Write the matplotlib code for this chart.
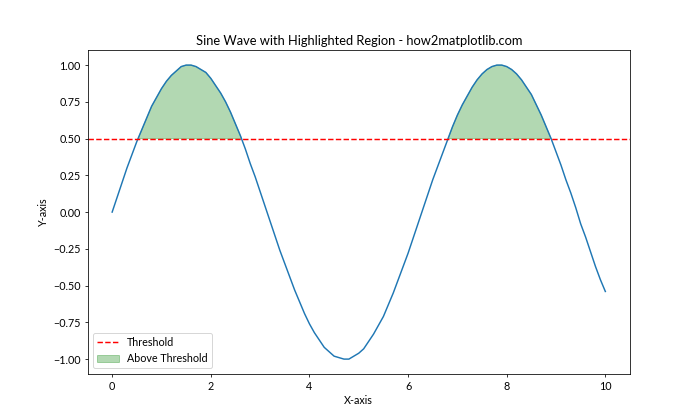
import matplotlib
matplotlib.use("Agg")
import matplotlib.pyplot as plt
import numpy as np

plt.rcParams['font.family'] = ['Lato', 'DejaVu Sans']
plt.rcParams['font.size'] = 11

# -----------------------------
# Data (x step 0.1)
# -----------------------------
x_start, x_stop, x_step = 0.0, 10.0, 0.1
y_vals = [0.00, 0.10, 0.20, 0.30, 0.39, 0.48, 0.56, 0.64, 0.72, 0.78,
          0.84, 0.89, 0.93, 0.96, 0.99, 1.00, 1.00, 0.99, 0.97, 0.95,
          0.91, 0.86, 0.81, 0.75, 0.68, 0.60, 0.52, 0.43, 0.33, 0.24,
          0.14, 0.04, -0.06, -0.16, -0.26, -0.35, -0.44, -0.53, -0.61, -0.69,
          -0.76, -0.82, -0.87, -0.92, -0.95, -0.98, -0.99, -1.00, -1.00, -0.98,
          -0.96, -0.93, -0.88, -0.83, -0.77, -0.71, -0.63, -0.55, -0.46, -0.37,
          -0.28, -0.18, -0.08, 0.02, 0.12, 0.22, 0.31, 0.40, 0.49, 0.58,
          0.66, 0.73, 0.79, 0.85, 0.90, 0.94, 0.97, 0.99, 1.00, 1.00,
          0.99, 0.97, 0.94, 0.90, 0.85, 0.80, 0.73, 0.66, 0.58, 0.50,
          0.41, 0.32, 0.22, 0.13, 0.03, -0.08, -0.17, -0.27, -0.37, -0.46,
          -0.54]
threshold = 0.5

y = np.array(y_vals)
x = np.linspace(x_start, x_stop, len(y))

# -----------------------------
# Plot
# -----------------------------
fig, ax = plt.subplots(figsize=(10, 6), dpi=70)
ax.plot(x, y)
ax.axhline(threshold, color='r', linestyle='--', label='Threshold')
ax.fill_between(x, y, threshold, where=(y > threshold), interpolate=True,
                color='green', alpha=0.3, label='Above Threshold')
ax.set_title("Sine Wave with Highlighted Region - how2matplotlib.com")
ax.set_xlabel("X-axis")
ax.set_ylabel("Y-axis")
ax.legend(loc='lower left')

fig.savefig("out.png")
